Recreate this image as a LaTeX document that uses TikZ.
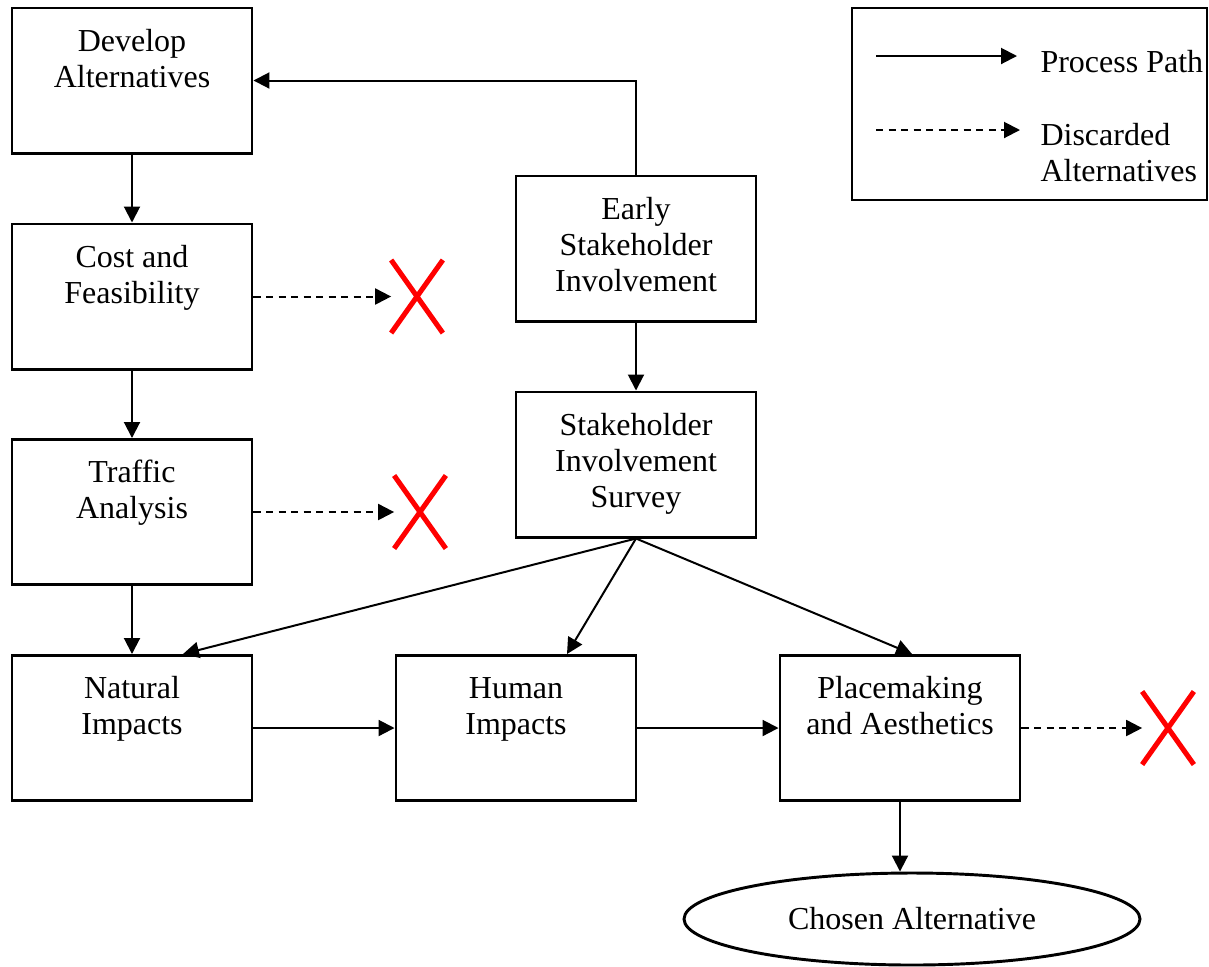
\documentclass[tikz,border=0pt]{standalone}
\usepackage{fontspec}
\setmainfont{Liberation Serif}
\usetikzlibrary{arrows.meta,calc,shapes.geometric,shapes.misc}
\newcommand{\boxtext}[1]{\parbox[c][50pt][t]{88pt}{\centering\vspace*{4.5pt}\strut#1\par}}

\begin{document}
\begin{tikzpicture}[x=0.375pt,y=-0.375pt,
  every node/.style={font=\fontsize{12}{13.5}\selectfont},
  blk/.style={draw,line width=1.1pt,inner sep=0pt,minimum width=90pt,minimum height=54.4pt},
  goal/.style={ellipse,draw,line width=1.1pt,inner sep=0pt,minimum width=171pt,minimum height=34.5pt},
  cross/.style={cross out,draw=red,line width=1.9pt,inner sep=0pt,minimum width=17.5pt,minimum height=25.5pt},
  key/.style={draw,line width=0.8pt,inner sep=0pt,minimum width=133pt,minimum height=72pt},
  txt/.style={inner sep=0pt,align=left},
  flow/.style={-{Triangle[length=6pt,width=6pt]},line width=0.75pt},
  drop/.style={flow,dash pattern=on 2.7pt off 2pt}]
  \useasboundingbox (0,0) rectangle (1209,966);
  % left column
  \node[blk] (da) at (132,80.5) {\boxtext{Develop\\Alternatives}};
  \node[blk] (cf) at (132,296.5) {\boxtext{Cost and\\Feasibility}};
  \node[blk] (ta) at (132,512) {\boxtext{Traffic\\Analysis}};
  % bottom row
  \node[blk] (ni) at (132,728) {\boxtext{Natural\\Impacts}};
  \node[blk] (hi) at (516,728) {\boxtext{Human\\Impacts}};
  \node[blk] (pm) at (900,728) {\boxtext{Placemaking\\and Aesthetics}};
  % stakeholder column
  \node[blk] (es) at (636,248.5) {\boxtext{Early\\Stakeholder\\Involvement}};
  \node[blk] (sv) at (636,464.5) {\boxtext{Stakeholder\\Involvement\\Survey}};
  \node[goal] (ca) at (912,919) {Chosen Alternative};
  % discarded marks
  \node[cross] (x1) at (417,296.5) {};
  \node[cross] (x2) at (420,512) {};
  \node[cross] (x3) at (1168,728) {};
  % legend
  \node[key] (lg) at (1029.5,104) {};
  \coordinate (p0) at (876,56);
  \coordinate (p1) at (1017,56);
  \coordinate (q0) at (876,130);
  \coordinate (q1) at (1020,130);
  \node[txt,anchor=base west] (lp) at (1040,72) {Process Path};
  \node[txt,anchor=north west] (ld) at (1040,123) {Discarded\\Alternatives};
  \draw[flow] (p0) -- (p1);
  \draw[drop] (q0) -- (q1);
  % connectors
  \draw[flow] (da) -- (cf);
  \draw[flow] (cf) -- (ta);
  \draw[flow] (ta) -- (ni);
  \draw[flow] (es.north) |- (da.east);
  \draw[flow] (es) -- (sv);
  \draw[flow] (sv.south) -- ($(ni.north)+(51,0)$);
  \draw[flow] (sv.south) -- ($(hi.north)+(51,0)$);
  \draw[flow] (sv.south) -- ($(pm.north)+(12,0)$);
  \draw[flow] (ni) -- (hi);
  \draw[flow] (hi) -- (pm);
  \draw[flow] (pm.south) -- (pm.south |- ca.north);
  \draw[drop] (cf) -- (x1);
  \draw[drop] (ta) -- (x2);
  \draw[drop] (pm) -- (x3);
\end{tikzpicture}
\end{document}
